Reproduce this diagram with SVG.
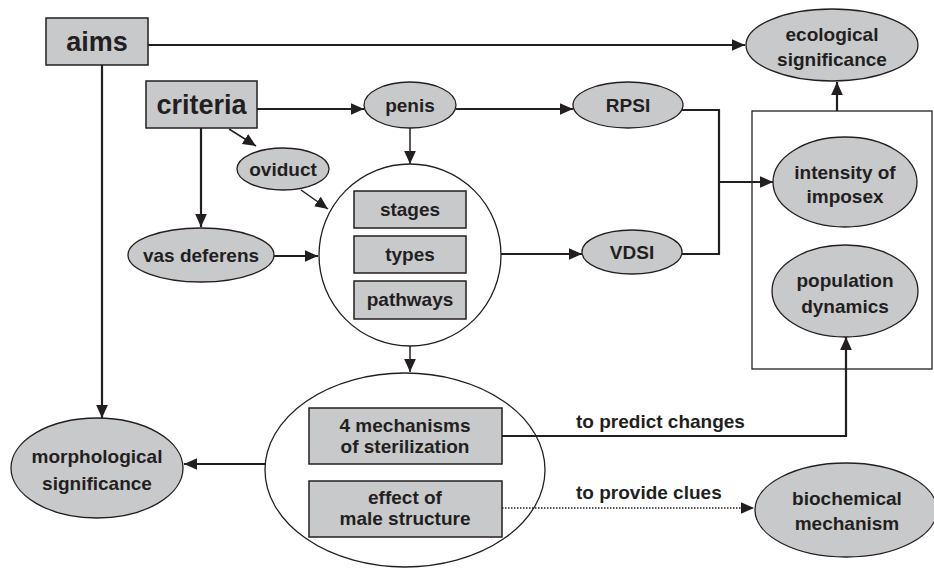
<svg xmlns="http://www.w3.org/2000/svg" width="934" height="569" viewBox="0 0 934 569">
  <style>
    .box { fill: #c8c9cb; stroke: #231f20; stroke-width: 1.5; }
    .oval { fill: #c8c9cb; stroke: #231f20; stroke-width: 1.3; }
    .frame { fill: #ffffff; stroke: #231f20; stroke-width: 1.3; }
    .line { fill: none; stroke: #231f20; stroke-width: 2.2; }
    .thin { fill: none; stroke: #231f20; stroke-width: 1.5; }
    .dots { fill: none; stroke: #231f20; stroke-width: 1.6; stroke-dasharray: 1.5 1.5; }
    text { font-family: "Liberation Sans", Arial, sans-serif; font-weight: bold; fill: #231f20; text-anchor: middle; }
    .big { font-size: 27px; }
    .lbl { font-size: 19px; }
    .edge { font-size: 19px; text-anchor: start; }
  </style>
  <defs>
    <marker id="arrowL" viewBox="0 0 10 10" refX="10" refY="5" markerWidth="13" markerHeight="13" markerUnits="userSpaceOnUse" orient="auto">
      <path d="M0,0.5 L10,5 L0,9.5 Z" fill="#231f20"/>
    </marker>
  </defs>

  <!-- container frames -->
  <rect id="outcome-frame" class="frame" x="752" y="111" width="180" height="258"/>
  <g id="structures">
    <circle class="frame" cx="410" cy="255" r="91"/>
  </g>
  <g id="findings">
    <ellipse class="frame" cx="405" cy="470" rx="140" ry="97"/>
  </g>

  <!-- connectors -->
  <g id="connectors">
    <path class="line" d="M148,45 H745" marker-end="url(#arrowL)"/>
    <path class="line" d="M102,65 V418" marker-end="url(#arrowL)"/>
    <path class="line" d="M257,109 H364" marker-end="url(#arrowL)"/>
    <path class="line" d="M201,128 V227" marker-end="url(#arrowL)"/>
    <path class="thin" d="M229,129 L256,146" marker-end="url(#arrowL)"/>
    <path class="line" d="M456,109 H573" marker-end="url(#arrowL)"/>
    <path class="thin" d="M410,128 V164" marker-end="url(#arrowL)"/>
    <path class="thin" d="M301,190 L328,209" marker-end="url(#arrowL)"/>
    <path class="line" d="M274,256 H318" marker-end="url(#arrowL)"/>
    <path class="line" d="M501,254 H582" marker-end="url(#arrowL)"/>
    <path class="line" d="M682,110 H719 V254 H682"/>
    <path class="line" d="M719,182 H773" marker-end="url(#arrowL)"/>
    <path class="line" d="M837,111 V82" marker-end="url(#arrowL)"/>
    <path class="thin" d="M410,346 V372" marker-end="url(#arrowL)"/>
    <path class="line" d="M265,464 H184" marker-end="url(#arrowL)"/>
    <path class="line" d="M502,436 H846 V337" marker-end="url(#arrowL)"/>
    <path class="dots" d="M502,508 H754" marker-end="url(#arrowL)"/>
    <text class="edge" x="576" y="428">to predict changes</text>
    <text class="edge" x="576" y="499">to provide clues</text>
  </g>

  <!-- nodes -->
  <g id="aims">
    <rect class="box" x="46" y="18" width="102" height="47"/>
    <text class="big" x="97" y="51">aims</text>
  </g>
  <g id="criteria">
    <rect class="box" x="146" y="81" width="111" height="47"/>
    <text class="big" x="201.5" y="114">criteria</text>
  </g>
  <g id="penis">
    <ellipse class="oval" cx="410" cy="105" rx="46" ry="23"/>
    <text class="lbl" x="410" y="112">penis</text>
  </g>
  <g id="oviduct">
    <ellipse class="oval" cx="283" cy="169" rx="46" ry="21"/>
    <text class="lbl" x="283" y="176">oviduct</text>
  </g>
  <g id="vas-deferens">
    <ellipse class="oval" cx="201" cy="255" rx="73" ry="27"/>
    <text class="lbl" x="201" y="262">vas deferens</text>
  </g>
  <g id="stages">
    <rect class="box" x="354" y="191" width="112" height="37"/>
    <text class="lbl" x="410" y="216">stages</text>
  </g>
  <g id="types">
    <rect class="box" x="354" y="236" width="112" height="37"/>
    <text class="lbl" x="410" y="261">types</text>
  </g>
  <g id="pathways">
    <rect class="box" x="354" y="281" width="112" height="38"/>
    <text class="lbl" x="410" y="306">pathways</text>
  </g>
  <g id="rpsi">
    <ellipse class="oval" cx="628" cy="105" rx="55" ry="23"/>
    <text class="lbl" x="628" y="112">RPSI</text>
  </g>
  <g id="vdsi">
    <ellipse class="oval" cx="632" cy="252" rx="50" ry="22"/>
    <text class="lbl" x="632" y="259">VDSI</text>
  </g>
  <g id="ecological-significance">
    <ellipse class="oval" cx="832" cy="45" rx="86" ry="36"/>
    <text class="lbl" x="832" y="41">ecological</text>
    <text class="lbl" x="832" y="66">significance</text>
  </g>
  <g id="intensity-of-imposex">
    <ellipse class="oval" cx="845" cy="182" rx="72" ry="45"/>
    <text class="lbl" x="845" y="179">intensity of</text>
    <text class="lbl" x="845" y="203">imposex</text>
  </g>
  <g id="population-dynamics">
    <ellipse class="oval" cx="845" cy="291" rx="73" ry="46"/>
    <text class="lbl" x="845" y="287">population</text>
    <text class="lbl" x="845" y="313">dynamics</text>
  </g>
  <g id="mechanisms">
    <rect class="box" x="309" y="408" width="193" height="56"/>
    <text class="lbl" x="405" y="432">4 mechanisms</text>
    <text class="lbl" x="405" y="453">of sterilization</text>
  </g>
  <g id="male-structure">
    <rect class="box" x="309" y="481" width="193" height="56"/>
    <text class="lbl" x="405" y="504">effect of</text>
    <text class="lbl" x="405" y="525">male structure</text>
  </g>
  <g id="morphological-significance">
    <ellipse class="oval" cx="97" cy="468" rx="86" ry="50"/>
    <text class="lbl" x="97" y="463">morphological</text>
    <text class="lbl" x="97" y="490">significance</text>
  </g>
  <g id="biochemical-mechanism">
    <ellipse class="oval" cx="846" cy="510" rx="91" ry="47"/>
    <text class="lbl" x="847" y="505">biochemical</text>
    <text class="lbl" x="847" y="530">mechanism</text>
  </g>
</svg>
